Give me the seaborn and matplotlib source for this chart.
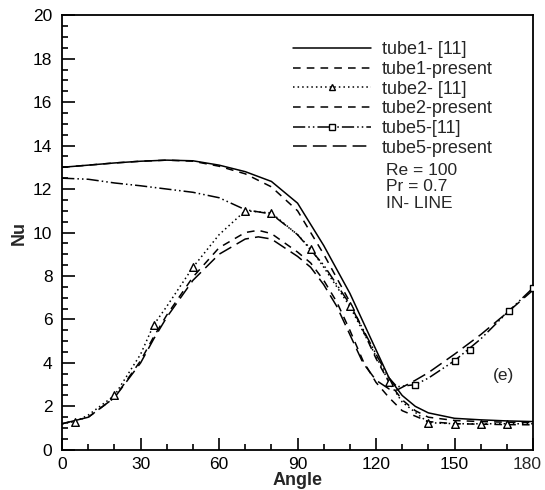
import matplotlib
matplotlib.use("Agg")
import matplotlib.pyplot as plt
import seaborn as sns
from matplotlib.lines import Line2D
from matplotlib.ticker import MultipleLocator, FuncFormatter

# tube1 - reference [11] (solid)
t1_ref_ang = [0, 10, 20, 30, 40, 50, 60, 70, 80, 90, 100, 110, 120, 125, 130, 135, 140, 150, 160, 170, 180]
t1_ref_nu = [13.0, 13.1, 13.2, 13.28, 13.33, 13.3, 13.1, 12.8, 12.35, 11.35, 9.4, 7.2, 4.6, 3.3, 2.5, 2.0, 1.7, 1.45, 1.38, 1.33, 1.3]

# tube1 - present (dashed)
t1_pre_ang = [0, 10, 20, 30, 40, 50, 60, 70, 80, 90, 100, 110, 120, 125, 130, 135, 140, 150, 160, 170, 180]
t1_pre_nu = [13.0, 13.1, 13.2, 13.28, 13.33, 13.28, 13.05, 12.7, 12.1, 11.0, 9.0, 6.8, 4.2, 3.1, 2.3, 1.8, 1.5, 1.35, 1.3, 1.27, 1.25]

# tube2 - reference [11] (dotted + triangles)
t2_ref_ang = [0, 5, 10, 20, 30, 35, 40, 50, 60, 70, 80, 90, 95, 100, 110, 120, 125, 130, 140, 150, 160, 170, 180]
t2_ref_nu = [1.2, 1.3, 1.6, 2.5, 4.4, 5.75, 6.6, 8.4, 9.9, 11.0, 10.9, 9.9, 9.25, 8.4, 6.6, 4.3, 3.1, 2.2, 1.25, 1.2, 1.2, 1.2, 1.2]
t2_mk_ang = [5, 20, 35, 50, 70, 80, 95, 110, 125, 140, 150, 160, 170]
t2_mk_nu = [1.3, 2.5, 5.75, 8.4, 11.0, 10.9, 9.25, 6.6, 3.1, 1.25, 1.2, 1.2, 1.2]

# tube2 - present (dashed)
t2_pre_ang = [0, 10, 20, 30, 35, 40, 50, 60, 70, 75, 80, 90, 95, 100, 105, 110, 115, 120, 125, 130, 140, 150, 160, 170, 180]
t2_pre_nu = [1.2, 1.5, 2.4, 4.1, 5.2, 6.2, 7.95, 9.3, 10.0, 10.1, 9.95, 9.1, 8.6, 7.8, 6.8, 5.5, 4.1, 3.1, 2.4, 1.8, 1.3, 1.2, 1.18, 1.16, 1.15]

# tube5 - reference [11] (dash-dot-dot + squares)
t5_ref_ang = [0, 10, 20, 30, 40, 50, 60, 70, 80, 90, 95, 100, 110, 120, 125, 128, 135, 140, 150, 160, 170, 180]
t5_ref_nu = [12.5, 12.45, 12.28, 12.15, 12.0, 11.85, 11.6, 11.05, 10.85, 9.9, 9.2, 8.5, 6.7, 4.4, 3.3, 2.9, 3.0, 3.3, 4.1, 5.1, 6.3, 7.45]
t5_mk_ang = [135, 150, 156, 171, 180]
t5_mk_nu = [3.0, 4.1, 4.6, 6.4, 7.45]

# tube5 - present (long dash)
t5_pre_ang = [0, 10, 20, 30, 35, 40, 50, 60, 70, 75, 80, 90, 95, 100, 105, 110, 115, 120, 125, 128, 135, 140, 150, 160, 170, 180]
t5_pre_nu = [1.2, 1.5, 2.4, 4.0, 5.1, 6.1, 7.8, 9.0, 9.7, 9.8, 9.7, 8.9, 8.4, 7.6, 6.6, 5.3, 4.0, 3.2, 2.8, 2.75, 3.2, 3.55, 4.4, 5.3, 6.3, 7.35]

labels = ["tube1- [11]", "tube1-present", "tube2- [11]", "tube2-present", "tube5-[11]", "tube5-present"]
notes = ["Re = 100", "Pr = 0.7", "IN- LINE"]

sns.set_theme(style="ticks")
plt.rcParams['font.family'] = ['Liberation Sans', 'DejaVu Sans']

fig = plt.figure(figsize=(5.45, 4.9), dpi=100)
ax = fig.add_axes([0.114, 0.082, 0.864, 0.887])

styles = [
    (t1_ref_ang, t1_ref_nu, '-'),
    (t1_pre_ang, t1_pre_nu, (0, (5, 4))),
    (t2_ref_ang, t2_ref_nu, (0, (1, 2))),
    (t2_pre_ang, t2_pre_nu, (0, (5, 4))),
    (t5_ref_ang, t5_ref_nu, (0, (8, 2, 1, 2, 1, 2))),
    (t5_pre_ang, t5_pre_nu, (0, (9, 4))),
]
for xs, ys, ls in styles:
    sns.lineplot(x=xs, y=ys, ax=ax, color='black', linewidth=1.1, linestyle=ls, sort=False)

sns.scatterplot(x=t2_mk_ang, y=t2_mk_nu, ax=ax, marker='^', s=30,
                facecolor='white', edgecolor='black', linewidth=1.0, zorder=3)
sns.scatterplot(x=t5_mk_ang, y=t5_mk_nu, ax=ax, marker='s', s=20,
                facecolor='white', edgecolor='black', linewidth=1.0, zorder=3)

ax.set_xlim(0, 180)
ax.set_ylim(0, 20)
ax.xaxis.set_major_locator(MultipleLocator(30))
ax.xaxis.set_minor_locator(MultipleLocator(10))
ax.yaxis.set_major_locator(MultipleLocator(2))
ax.yaxis.set_minor_locator(MultipleLocator(0.5))
# the last label ("180") is drawn separately so it stays inside the figure
ax.xaxis.set_major_formatter(FuncFormatter(lambda v, p: "" if v >= 180 else f"{v:.0f}"))
ax.tick_params(which='both', direction='in', top=False, right=False, colors='black',
               labelsize=12.5)
ax.tick_params(axis='y', pad=7)
ax.tick_params(axis='x', pad=5)
ax.tick_params(which='major', length=9, width=1.2)
ax.tick_params(which='minor', length=4.5, width=1.2)
for sp in ax.spines.values():
    sp.set_visible(True)
    sp.set_color('black')
    sp.set_linewidth(1.3)

ax.annotate("180", xy=(180, 0), xycoords='data', xytext=(-4, -5), textcoords='offset points',
            ha='center', va='top', fontsize=12.5, annotation_clip=False)

ax.set_xlabel("Angle", fontsize=13, fontweight='bold', labelpad=0)
ax.set_ylabel("Nu", fontsize=13, fontweight='bold', labelpad=4)

handles = [
    Line2D([], [], color='black', lw=1.1, ls='-'),
    Line2D([], [], color='black', lw=1.1, ls=(0, (5, 4))),
    Line2D([], [], color='black', lw=1.1, ls=(0, (1, 2)), marker='^', markersize=5,
           markerfacecolor='white', markeredgecolor='black'),
    Line2D([], [], color='black', lw=1.1, ls=(0, (5, 4))),
    Line2D([], [], color='black', lw=1.1, ls=(0, (8, 2, 1, 2, 1, 2)), marker='s', markersize=4,
           markerfacecolor='white', markeredgecolor='black'),
    Line2D([], [], color='black', lw=1.1, ls=(0, (9, 4))),
]
fig.legend(handles, labels, loc='upper left', bbox_to_anchor=(0.538, 0.916),
           frameon=False, fontsize=13, handlelength=4.3, handletextpad=0.6,
           labelspacing=0.15, borderpad=0, borderaxespad=0, numpoints=1)

for i, note in enumerate(notes):
    fig.text(0.708, 0.653 - i * 0.034, note, fontsize=12.5, va='center', ha='left')
fig.text(0.905, 0.233, "(e)", fontsize=12.5, va='center', ha='left')

fig.savefig("out.png", dpi=100)
